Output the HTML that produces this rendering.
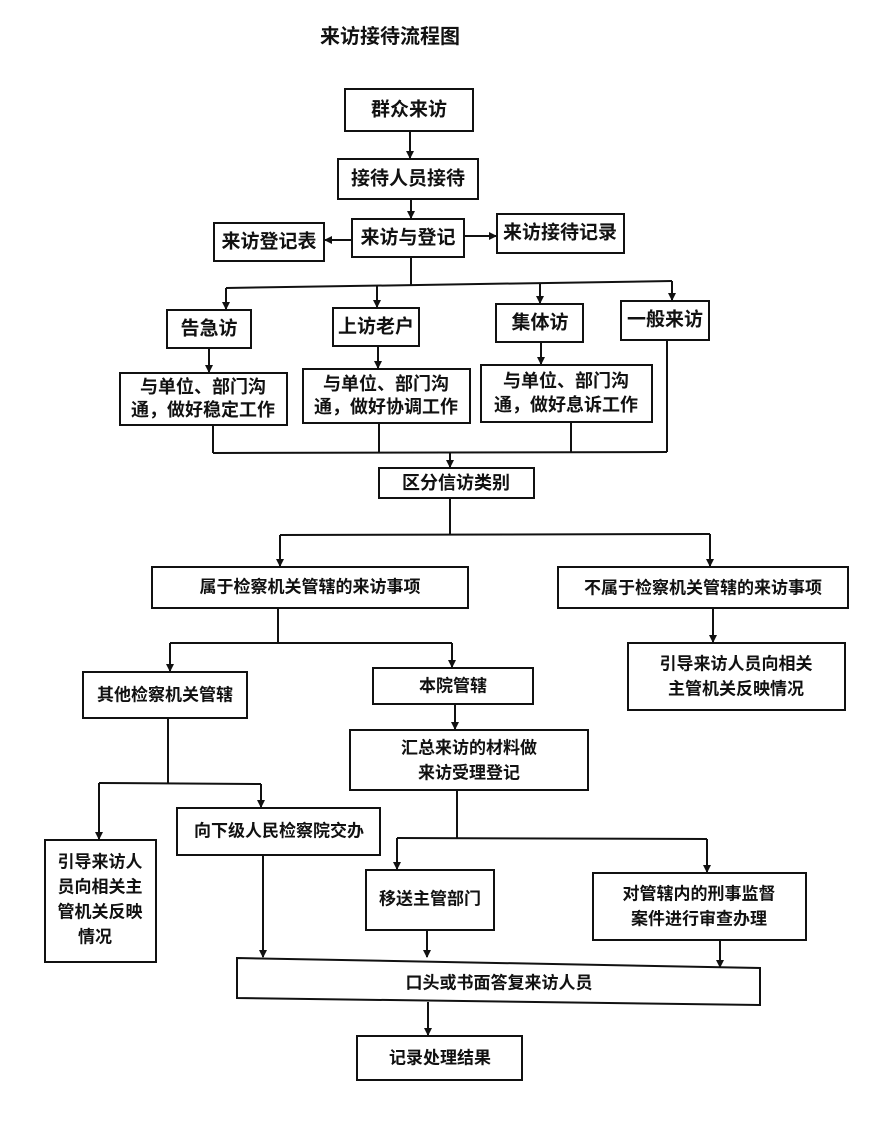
<!DOCTYPE html>
<html><head><meta charset="utf-8"><style>
html,body{margin:0;padding:0;background:#fff;}
svg{display:block;}
text{font-family:"Liberation Sans","Noto Sans CJK SC","WenQuanYi Zen Hei",sans-serif;font-weight:bold;fill:#111;text-anchor:middle;dominant-baseline:central;}
rect{fill:#fff;stroke:#111;stroke-width:2;}
line,polyline{stroke:#111;stroke-width:2;fill:none;}
</style></head><body>
<svg width="880" height="1136" viewBox="0 0 880 1136" xmlns="http://www.w3.org/2000/svg">
<defs><marker id="a" markerWidth="8" markerHeight="8" refX="7" refY="4" orient="auto" markerUnits="userSpaceOnUse"><path d="M0,0 L8,4 L0,8 z" fill="#111"/></marker></defs>
<text x="390" y="37" style="font-size:20px">来访接待流程图</text>

<rect x="345" y="89" width="128" height="42"/><text x="409" y="110" style="font-size:19px">群众来访</text>
<line x1="410" y1="131" x2="410" y2="158" marker-end="url(#a)"/>
<rect x="338" y="159" width="140" height="40"/><text x="408" y="179" style="font-size:19px">接待人员接待</text>
<line x1="411" y1="199" x2="411" y2="218" marker-end="url(#a)"/>
<rect x="352" y="219" width="112" height="38"/><text x="408" y="238" style="font-size:19px">来访与登记</text>
<rect x="214" y="223" width="110" height="38"/><text x="269" y="242" style="font-size:19px">来访登记表</text>
<rect x="497" y="214" width="127" height="39"/><text x="560" y="233" style="font-size:19px">来访接待记录</text>
<line x1="352" y1="240" x2="325" y2="240" marker-end="url(#a)"/>
<line x1="464" y1="236" x2="496" y2="236" marker-end="url(#a)"/>

<line x1="411" y1="257" x2="411" y2="285"/>
<line x1="226" y1="288" x2="672" y2="281"/>
<line x1="226" y1="288" x2="226" y2="309" marker-end="url(#a)"/>
<line x1="377" y1="286" x2="377" y2="307" marker-end="url(#a)"/>
<line x1="540" y1="284" x2="540" y2="303" marker-end="url(#a)"/>
<line x1="672" y1="281" x2="672" y2="300" marker-end="url(#a)"/>

<rect x="167" y="310" width="84" height="38"/><text x="209" y="329" style="font-size:19px">告急访</text>
<rect x="333" y="308" width="86" height="38"/><text x="376" y="327" style="font-size:19px">上访老户</text>
<rect x="496" y="304" width="87" height="38"/><text x="540" y="323" style="font-size:19px">集体访</text>
<rect x="621" y="301" width="88" height="39"/><text x="665" y="320" style="font-size:19px">一般来访</text>

<line x1="209" y1="348" x2="209" y2="372" marker-end="url(#a)"/>
<line x1="378" y1="346" x2="378" y2="368" marker-end="url(#a)"/>
<line x1="541" y1="342" x2="541" y2="364" marker-end="url(#a)"/>

<rect x="120" y="373" width="167" height="52"/><text x="203" y="387" style="font-size:18px">与单位、部门沟</text><text x="203" y="410" style="font-size:18px">通，做好稳定工作</text>
<rect x="303" y="369" width="167" height="54"/><text x="386" y="384" style="font-size:18px">与单位、部门沟</text><text x="386" y="407" style="font-size:18px">通，做好协调工作</text>
<rect x="481" y="365" width="171" height="57"/><text x="566" y="381" style="font-size:18px">与单位、部门沟</text><text x="566" y="405" style="font-size:18px">通，做好息诉工作</text>

<line x1="213" y1="425" x2="213" y2="453"/>
<line x1="379" y1="423" x2="379" y2="453"/>
<line x1="571" y1="422" x2="571" y2="452"/>
<line x1="667" y1="340" x2="667" y2="452"/>
<line x1="213" y1="453" x2="667" y2="452"/>
<line x1="450" y1="453" x2="450" y2="467" marker-end="url(#a)"/>
<rect x="379" y="468" width="155" height="30"/><text x="456" y="483" style="font-size:18px">区分信访类别</text>

<line x1="450" y1="498" x2="450" y2="535"/>
<line x1="280" y1="535" x2="710" y2="534"/>
<line x1="280" y1="535" x2="280" y2="566" marker-end="url(#a)"/>
<line x1="710" y1="534" x2="710" y2="566" marker-end="url(#a)"/>
<rect x="152" y="567" width="316" height="41"/><text x="310" y="587" style="font-size:17px">属于检察机关管辖的来访事项</text>
<rect x="558" y="567" width="290" height="41"/><text x="703" y="588" style="font-size:17px">不属于检察机关管辖的来访事项</text>
<line x1="713" y1="608" x2="713" y2="642" marker-end="url(#a)"/>
<rect x="628" y="643" width="217" height="67"/><text x="736" y="664" style="font-size:17px">引导来访人员向相关</text><text x="736" y="689" style="font-size:17px">主管机关反映情况</text>

<line x1="278" y1="608" x2="278" y2="643"/>
<line x1="170" y1="643" x2="452" y2="643"/>
<line x1="170" y1="643" x2="170" y2="671" marker-end="url(#a)"/>
<line x1="452" y1="643" x2="452" y2="667" marker-end="url(#a)"/>
<rect x="83" y="672" width="164" height="46"/><text x="165" y="695" style="font-size:17px">其他检察机关管辖</text>
<rect x="373" y="668" width="160" height="36"/><text x="453" y="686" style="font-size:17px">本院管辖</text>
<line x1="455" y1="704" x2="455" y2="729" marker-end="url(#a)"/>
<rect x="350" y="730" width="238" height="60"/><text x="469" y="748" style="font-size:17px">汇总来访的材料做</text><text x="469" y="773" style="font-size:17px">来访受理登记</text>

<line x1="168" y1="718" x2="168" y2="783"/>
<line x1="99" y1="783" x2="261" y2="784"/>
<line x1="99" y1="783" x2="99" y2="839" marker-end="url(#a)"/>
<line x1="261" y1="784" x2="261" y2="807" marker-end="url(#a)"/>
<rect x="45" y="840" width="111" height="122"/>
<text x="100" y="862" style="font-size:17px">引导来访人</text><text x="100" y="887" style="font-size:17px">员向相关主</text><text x="100" y="912" style="font-size:17px">管机关反映</text><text x="95" y="937" style="font-size:17px">情况</text>
<rect x="177" y="808" width="203" height="47"/><text x="279" y="831" style="font-size:17px">向下级人民检察院交办</text>

<line x1="457" y1="790" x2="457" y2="838"/>
<line x1="397" y1="838" x2="707" y2="839"/>
<line x1="397" y1="838" x2="397" y2="869" marker-end="url(#a)"/>
<line x1="707" y1="839" x2="707" y2="872" marker-end="url(#a)"/>
<rect x="366" y="870" width="128" height="60"/><text x="430" y="899" style="font-size:17px">移送主管部门</text>
<rect x="593" y="873" width="213" height="67"/><text x="699" y="894" style="font-size:17px">对管辖内的刑事监督</text><text x="699" y="919" style="font-size:17px">案件进行审查办理</text>

<line x1="263" y1="855" x2="263" y2="957" marker-end="url(#a)"/>
<line x1="427" y1="930" x2="427" y2="957" marker-end="url(#a)"/>
<line x1="720" y1="940" x2="720" y2="967" marker-end="url(#a)"/>
<polygon points="237,958 760,968 760,1005 237,998" style="fill:#fff;stroke:#111;stroke-width:2"/>
<text x="499" y="983" style="font-size:17px">口头或书面答复来访人员</text>
<line x1="428" y1="1002" x2="428" y2="1035" marker-end="url(#a)"/>
<rect x="357" y="1036" width="165" height="44"/><text x="440" y="1058" style="font-size:17px">记录处理结果</text>
</svg>
</body></html>
